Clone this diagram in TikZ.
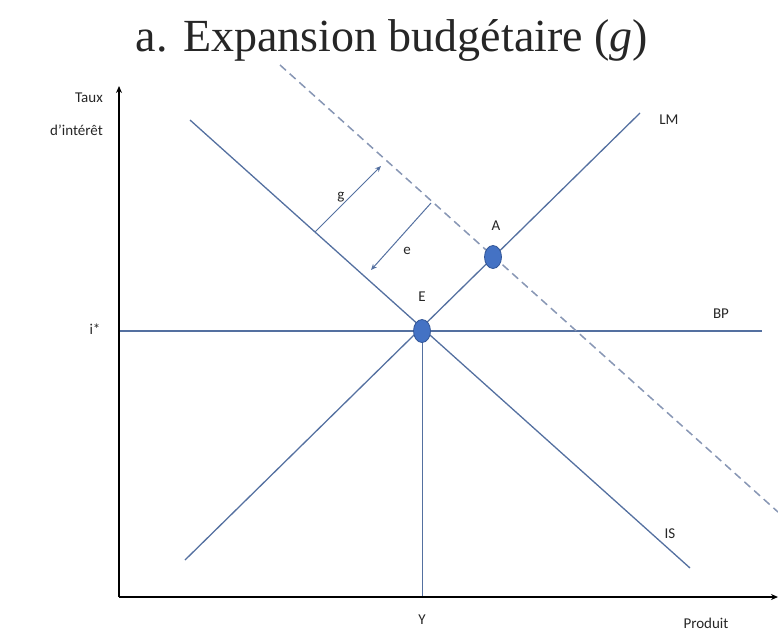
\documentclass[tikz,border=0pt]{standalone}
\usepackage{fontspec}
\setmainfont{Liberation Serif}
\newfontfamily\lblfont{Carlito}
\usetikzlibrary{arrows.meta,shapes.geometric}
\definecolor{curve}{RGB}{84,112,160}
\definecolor{dash}{RGB}{135,150,180}
\definecolor{ptfill}{RGB}{68,114,196}
\definecolor{ptdraw}{RGB}{50,85,150}
\tikzset{
  curveline/.style={draw=curve,line width=1.3pt},
  dashline/.style={draw=dash,line width=1.5pt,dash pattern=on 8pt off 5pt},
  axisline/.style={draw=black,line width=1.5pt,-{Stealth[length=7pt,width=6pt]}},
  shiftarrow/.style={draw=curve,line width=1pt,-{Stealth[length=6pt,width=5pt]}},
  lbl/.style={font=\lblfont\fontsize{15}{17}\selectfont,text=black!85,inner sep=1pt},
  pt/.style={ellipse,fill=ptfill,draw=ptdraw,line width=0.8pt,minimum width=17pt,minimum height=23pt,inner sep=0pt}
}
\begin{document}
\begin{tikzpicture}[x=1pt,y=-1pt]
\useasboundingbox (0,0) rectangle (778,633);
\node[font=\fontsize{46}{50}\selectfont,text=black!85] (title) at (392,40) {a. Expansion budgétaire (\textit{g})};
% axes
\coordinate (O) at (119,597);
\coordinate (ytop) at (119,86);
\coordinate (xend) at (778,597);
% curve ends
\coordinate (bpL) at (119,331);
\coordinate (bpR) at (762,331);
\coordinate (yB) at (422,597);
\coordinate (isT) at (190,120);
\coordinate (isB) at (690,568);
\coordinate (lmB) at (185,560);
\coordinate (lmT) at (640,113);
\coordinate (dT) at (280,65);
\coordinate (dB) at (778,512);
\coordinate (gS) at (315,232);
\coordinate (gE) at (381,166);
\coordinate (eS) at (431,203);
\coordinate (eE) at (371,270);
\draw[curveline] (bpL) -- (bpR);
\draw[curveline,line width=1pt] (yB) -- (422,331);
\draw[curveline] (isT) -- (isB);
\draw[curveline] (lmB) -- (lmT);
\draw[dashline] (dT) -- (dB);
\draw[shiftarrow] (gS) -- (gE);
\draw[shiftarrow] (eS) -- (eE);
\draw[axisline] (O) -- (ytop);
\draw[axisline] (O) -- (xend);
\node[pt] (E) at (422,331) {};
\node[pt] (A) at (493,257) {};
\node[lbl] (Elbl) at (422,297) {E};
\node[lbl] (Albl) at (496,226) {A};
\node[lbl] (glbl) at (341,197) {g};
\node[lbl] (elbl) at (407,251) {e};
\node[lbl] (LMlbl) at (669,120) {LM};
\node[lbl] (BPlbl) at (721,314) {BP};
\node[lbl] (ISlbl) at (670,534) {IS};
\node[lbl] (ilbl) at (95,329) {i*};
\node[lbl] (Ylbl) at (422,620) {Y};
\node[lbl] (Plbl) at (706,623) {Produit};
\node[lbl,anchor=east] (taux) at (104,98) {Taux};
\node[lbl,anchor=east] (dint) at (104,130) {d’intérêt};
\end{tikzpicture}
\end{document}
